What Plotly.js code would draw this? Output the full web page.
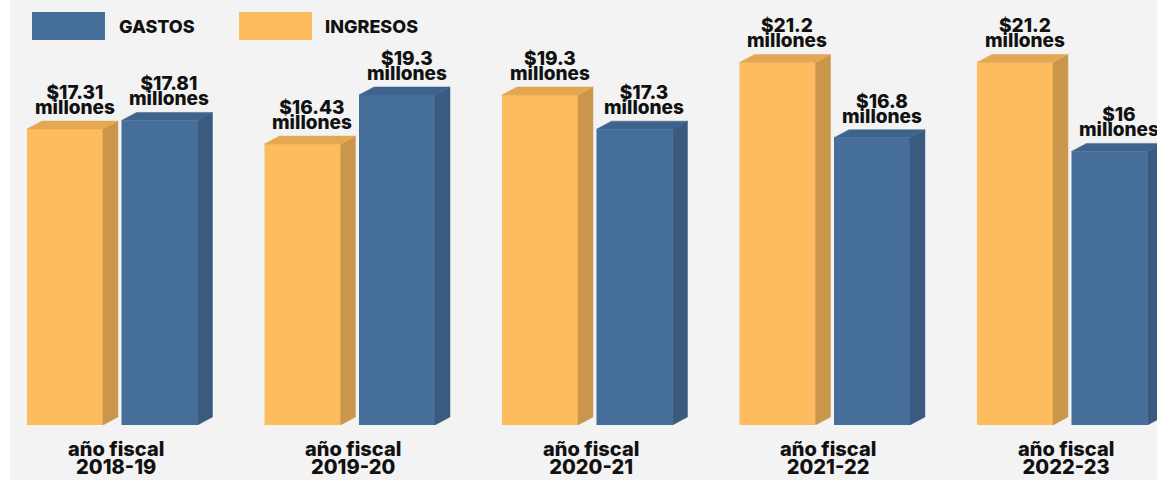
<!DOCTYPE html>
<html>
<head>
<meta charset="utf-8">
<script src="https://cdn.plot.ly/plotly-3.0.1.min.js"></script>
<style>html,body{margin:0;padding:0;background:#f3f3f3;}#chart{width:1157px;height:480px;}</style>
</head>
<body>
<div id="chart"></div>
<script>
// ---- data ----
const categories = ['2018-19', '2019-20', '2020-21', '2021-22', '2022-23'];
const axisPrefix = 'año fiscal';
const ingresos = [17.31, 16.43, 19.3, 21.2, 21.2];
const gastos = [17.81, 19.3, 17.3, 16.8, 16];
const unitWord = 'millones';
const seriesNames = { gastos: 'GASTOS', ingresos: 'INGRESOS' };

// ---- styling ----
const FONT = 'Inter, "Open Sans", sans-serif';
const COL = {
  ingFront: '#FDBC5E', ingSide: '#C9964B', ingTop: '#E4A852',
  gasFront: '#456E9A', gasSide: '#3A5B7F', gasTop: '#3E648E'
};
const W = 0.32, DX = 0.063, DY = 0.468;
const OFF_I = -0.358, OFF_G = 0.04;
const idx = categories.map((_, i) => i);

function faces(values, off) {
  const side = { x: [], y: [] }, top = { x: [], y: [] };
  values.forEach((v, i) => {
    const xl = i + off, xr = xl + W;
    side.x.push(xr, xr + DX, xr + DX, xr, xr, null);
    side.y.push(0, DY, v + DY, v, 0, null);
    top.x.push(xl, xl + DX, xr + DX, xr, xl, null);
    top.y.push(v, v + DY, v + DY, v, v, null);
  });
  return { side, top };
}

function poly(f, color) {
  return { type: 'scatter', mode: 'lines', x: f.x, y: f.y, fill: 'toself', fillcolor: color,
    line: { width: 0.5, color: color }, hoverinfo: 'skip', showlegend: false, connectgaps: false };
}

function bar(values, off, color, name) {
  return { type: 'bar', name: name, x: idx, y: values, width: W, offset: off,
    marker: { color: color, line: { width: 0 } }, hoverinfo: 'skip', showlegend: false };
}

const fi = faces(ingresos, OFF_I), fg = faces(gastos, OFF_G);
const traces = [
  bar(ingresos, OFF_I, COL.ingFront, seriesNames.ingresos),
  poly(fi.side, COL.ingSide), poly(fi.top, COL.ingTop),
  bar(gastos, OFF_G, COL.gasFront, seriesNames.gastos),
  poly(fg.side, COL.gasSide), poly(fg.top, COL.gasTop)
];

// two-line texts in one element: base font sets the (tight) line spacing, spans set glyph size
function twoLines(a, b, px) {
  const s = '<span style="font-size:' + px + 'px">';
  return s + a + '</span><br>' + s + b + '</span>';
}

const labelFont = { family: FONT, size: 11.7, weight: 800, color: '#111111' };
const annotations = [];
function addLabels(values, off) {
  values.forEach((v, i) => {
    annotations.push({ x: i + off + W / 2 + 0.042, y: v + DY, xref: 'x', yref: 'y',
      text: twoLines('$' + v, unitWord, 19), showarrow: false,
      yanchor: 'bottom', yshift: 0, font: labelFont });
  });
}
addLabels(ingresos, OFF_I);
addLabels(gastos, OFF_G);

const tickFont = { family: FONT, size: 14, weight: 800, color: '#111111' };
categories.forEach((c, i) => {
  annotations.push({ x: i + 0.015, y: 0, xref: 'x', yref: 'paper', text: twoLines(axisPrefix, c, 20),
    showarrow: false, yanchor: 'top', yshift: -10, font: tickFont });
});

// legend (custom swatches)
const legFont = { family: FONT, size: 18, weight: 800, color: '#111111' };
annotations.push({ x: 0.0933, y: 0.9388, xref: 'paper', yref: 'paper', text: seriesNames.gastos,
  showarrow: false, xanchor: 'left', yanchor: 'middle', font: legFont });
annotations.push({ x: 0.2729, y: 0.9388, xref: 'paper', yref: 'paper', text: seriesNames.ingresos,
  showarrow: false, xanchor: 'left', yanchor: 'middle', font: legFont });

const shapes = [
  { type: 'rect', xref: 'paper', yref: 'paper', x0: -0.0088, x1: 0, y0: -0.14, y1: 1.01,
    fillcolor: '#ffffff', line: { width: 0 }, layer: 'below' },
  { type: 'rect', xref: 'paper', yref: 'paper', x0: 0.0192, x1: 0.0828, y0: 0.9059, y1: 0.9718,
    fillcolor: COL.gasFront, line: { width: 0 } },
  { type: 'rect', xref: 'paper', yref: 'paper', x0: 0.1997, x1: 0.2633, y0: 0.9059, y1: 0.9718,
    fillcolor: COL.ingFront, line: { width: 0 } }
];

const layout = {
  width: 1157, height: 480,
  margin: { l: 10, r: 0, t: 0, b: 55, pad: 0 },
  paper_bgcolor: '#f3f3f3', plot_bgcolor: '#f3f3f3',
  barmode: 'overlay',
  showlegend: false,
  xaxis: { range: [-0.4295, 4.4], showgrid: false, zeroline: false, showticklabels: false,
    showline: false, fixedrange: true },
  yaxis: { range: [0, 24.854], showgrid: false, zeroline: false, showticklabels: false,
    showline: false, fixedrange: true },
  annotations: annotations,
  shapes: shapes
};

Plotly.newPlot('chart', traces, layout, { displayModeBar: false, staticPlot: true });
</script>
</body>
</html>
